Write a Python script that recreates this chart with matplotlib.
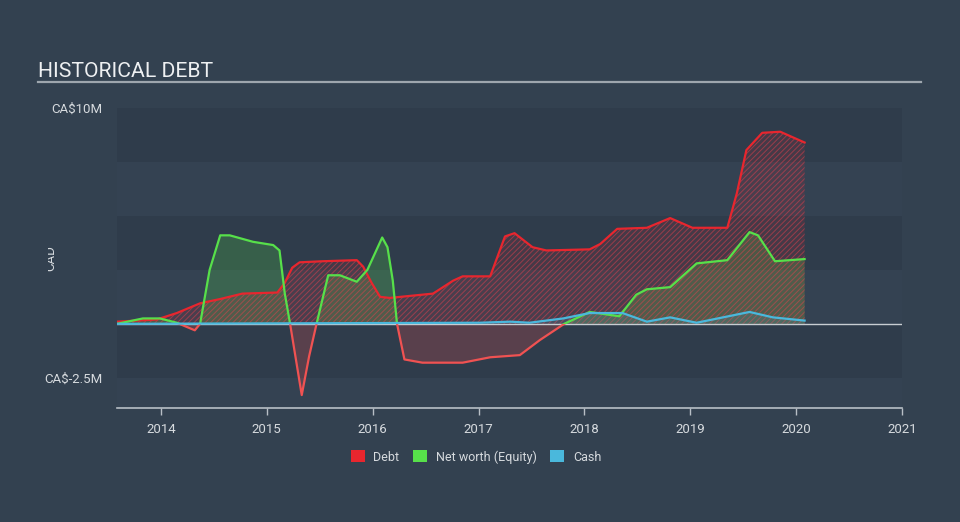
import numpy as np
import matplotlib
matplotlib.use("Agg")
import matplotlib.pyplot as plt
from matplotlib.patches import Patch, Rectangle
from matplotlib.lines import Line2D
from matplotlib.transforms import Bbox

plt.rcParams['font.family'] = ['Roboto', 'DejaVu Sans']
plt.rcParams['hatch.linewidth'] = 0.7

# data (CA$ millions), x in decimal years
debt_x = [2013.585, 2013.96, 2014.15, 2014.37, 2014.56, 2014.77, 2015.10, 2015.17,
          2015.24, 2015.31, 2015.53, 2015.85, 2015.91, 2015.99, 2016.07, 2016.16,
          2016.57, 2016.76, 2016.85, 2017.11, 2017.25, 2017.34, 2017.51, 2017.64,
          2018.05, 2018.15, 2018.31, 2018.59, 2018.81, 2019.02, 2019.35, 2019.44,
          2019.53, 2019.68, 2019.85, 2020.08]
debt_y = [0.1, 0.2, 0.5, 0.95, 1.15, 1.4, 1.45, 1.9,
          2.6, 2.85, 2.9, 2.95, 2.65, 1.9, 1.25, 1.2,
          1.4, 2.0, 2.2, 2.2, 4.05, 4.2, 3.55, 3.4,
          3.45, 3.7, 4.4, 4.45, 4.9, 4.45, 4.45, 6.05,
          8.05, 8.85, 8.9, 8.4]

equity_x = [2013.585, 2013.83, 2013.99, 2014.15, 2014.32, 2014.37, 2014.46, 2014.56,
            2014.65, 2014.87, 2015.06, 2015.12, 2015.17, 2015.22, 2015.33, 2015.40,
            2015.47, 2015.58, 2015.69, 2015.85, 2015.95, 2016.09, 2016.14, 2016.19,
            2016.23, 2016.30, 2016.47, 2016.85, 2017.11, 2017.39, 2017.58, 2017.81,
            2018.05, 2018.33, 2018.49, 2018.59, 2018.81, 2019.06, 2019.35, 2019.56,
            2019.64, 2019.80, 2020.08]
equity_y = [0.0, 0.25, 0.25, 0.05, -0.3, 0.0, 2.5, 4.1,
            4.1, 3.8, 3.65, 3.4, 1.4, 0.0, -3.3, -1.5,
            0.0, 2.25, 2.25, 1.95, 2.5, 4.0, 3.55, 2.0,
            0.0, -1.65, -1.8, -1.8, -1.55, -1.45, -0.75, 0.0,
            0.55, 0.35, 1.35, 1.6, 1.7, 2.8, 2.95, 4.25,
            4.1, 2.9, 3.0]

cash_x = [2013.585, 2017.01, 2017.30, 2017.48, 2017.80, 2018.05, 2018.36, 2018.59,
          2018.81, 2019.06, 2019.31, 2019.56, 2019.78, 2020.08]
cash_y = [0.0, 0.05, 0.1, 0.05, 0.25, 0.5, 0.5, 0.1,
          0.3, 0.05, 0.3, 0.55, 0.3, 0.15]

years = [2014, 2015, 2016, 2017, 2018, 2019, 2020, 2021]
ytick_vals = [-2.5, 10]
ytick_labels = ['CA$-2.5M', 'CA$10M']

red = '#e8262e'
red_neg = '#f05252'
green = '#57e04a'
blue = '#4ab8dc'
bg = '#334150'
txt = '#d6dade'

fig = plt.figure(figsize=(9.6, 5.22), dpi=100, facecolor=bg)
ax = fig.add_axes([117 / 960, 1 - 408 / 522, 785 / 960, 300 / 522])
ax.set_facecolor('#344252')

x0, x1 = 2013.585, 2021.0
ax.set_xlim(x0, x1)
ax.set_ylim(-3.9, 10.0)

# alternating bands
for lo, hi in [(7.5, 10.1), (2.5, 5.0), (-2.5, 0.0)]:
    ax.axhspan(lo, hi, color='#2f3c4b', lw=0, zorder=0)

ex = np.array(equity_x)
ey = np.array(equity_y)

# equity fills
ax.fill_between(ex, ey, 0, where=ey >= 0, interpolate=True,
                facecolor=(0.34, 0.88, 0.29, 0.22), lw=0, zorder=1)
ax.fill_between(ex, ey, 0, where=ey <= 0, interpolate=True,
                facecolor=(0.94, 0.32, 0.32, 0.22), lw=0, zorder=1)

# debt hatched area
ax.fill_between(debt_x, debt_y, 0, facecolor=(0.91, 0.15, 0.18, 0.12), lw=0, zorder=2)
ax.fill_between(debt_x, debt_y, 0, facecolor='none',
                edgecolor=(0.93, 0.25, 0.3, 0.5), hatch='//////', lw=0, zorder=2)

# cash fill
ax.fill_between(cash_x, cash_y, 0, facecolor=(0.29, 0.72, 0.86, 0.15), lw=0, zorder=2)

ax.axhline(0, color='#c8cdd2', lw=1.0, zorder=3)

ax.plot(debt_x, debt_y, color=red, lw=1.6, zorder=5)

# equity line: green above zero, red below
lp, = ax.plot(ex, ey, color=green, lw=1.6, zorder=5)
ln, = ax.plot(ex, ey, color=red_neg, lw=1.6, zorder=5)
lp.set_clip_path(Rectangle((x0, 0), x1 - x0, 20, transform=ax.transData))
ln.set_clip_path(Rectangle((x0, -20), x1 - x0, 20, transform=ax.transData))

ax.plot(cash_x, cash_y, color=blue, lw=1.6, zorder=6)

# axes styling
for s in ['top', 'right', 'left']:
    ax.spines[s].set_visible(False)
ax.spines['bottom'].set_color('#b8bfc6')
ax.spines['bottom'].set_linewidth(1.2)
ax.set_xticks(years)
ax.set_xticklabels([str(y) for y in years])
ax.tick_params(axis='x', colors='#b8bfc6', length=5, width=1, labelcolor=txt,
               labelsize=9.5, pad=6)
ax.set_yticks(ytick_vals)
ax.set_yticklabels(ytick_labels)
ax.tick_params(axis='y', length=0, labelcolor=txt, labelsize=9.5, pad=10.5)

# title and rule
fig.text(38 / 960, 1 - 77 / 522, 'HISTORICAL DEBT', color='#eef0f2', fontsize=15.2,
         ha='left', va='baseline')
fig.add_artist(Line2D([38 / 960, 921 / 960], [1 - 82 / 522, 1 - 82 / 522],
                      color='#9ea6ae', lw=1.6, transform=fig.transFigure))

# currency axis label, cut at the left like the original
t = fig.text(51 / 960, 1 - 258 / 522, 'CAD', color=txt, fontsize=9.5, rotation=90,
             ha='center', va='center')
t.set_clip_on(True)
t.set_clip_box(Bbox.from_extents(48, 0, 960, 522))

handles = [Patch(facecolor=red, edgecolor='none', label='Debt'),
           Patch(facecolor=green, edgecolor='none', label='Net worth (Equity)'),
           Patch(facecolor=blue, edgecolor='none', label='Cash')]
leg = fig.legend(handles=handles, loc='center', bbox_to_anchor=(0.496, 1 - 457 / 522),
                 ncol=3, frameon=False, fontsize=9, labelcolor=txt,
                 handlelength=1.1, handleheight=1.1, handletextpad=0.7, columnspacing=1.1)

fig.savefig('out.png', dpi=100, facecolor=bg)
